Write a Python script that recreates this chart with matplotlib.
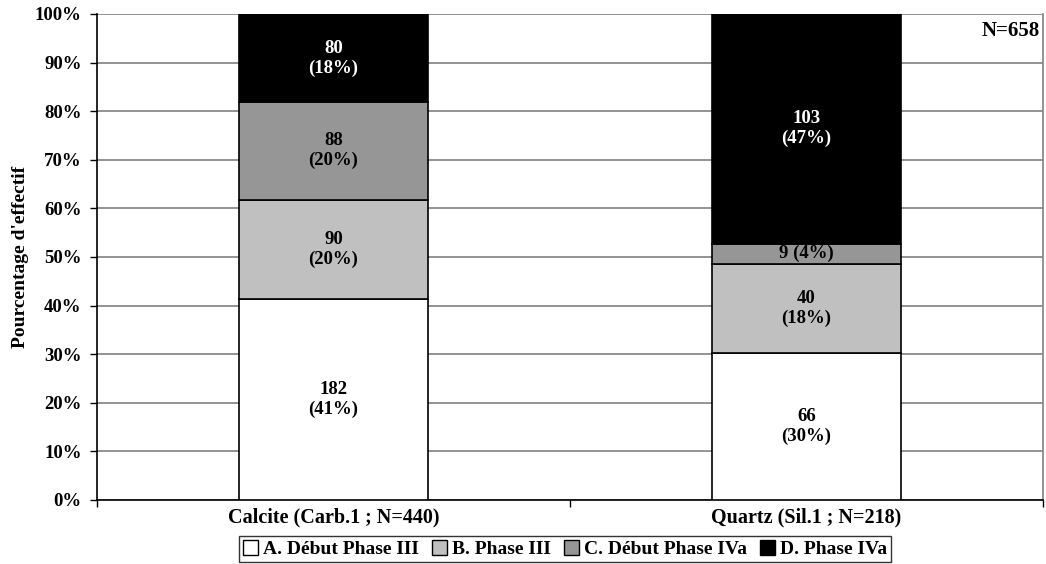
import numpy as np
import matplotlib
matplotlib.use("Agg")
import matplotlib.pyplot as plt
from matplotlib.patches import Patch

plt.rcParams['font.family'] = ['Liberation Serif', 'DejaVu Serif']
plt.rcParams['font.weight'] = 'bold'

# data
categories = ["Calcite (Carb.1 ; N=440)", "Quartz (Sil.1 ; N=218)"]
phases = ["A. Début Phase III", "B. Phase III", "C. Début Phase IVa", "D. Phase IVa"]
counts = {
    "A. Début Phase III": [182, 66],
    "B. Phase III": [90, 40],
    "C. Début Phase IVa": [88, 9],
    "D. Phase IVa": [80, 103],
}
total_label = "N=658"
colors = ["#ffffff", "#c0c0c0", "#969696", "#000000"]

fig = plt.figure(figsize=(10.46, 5.64), dpi=100)
ax = fig.add_axes([97/1046, 1-500/564, (1043-97)/1046, (500-14)/564])

totals = np.zeros(len(categories))
for p in phases:
    totals += np.array(counts[p])

x = np.arange(len(categories))
bottom = np.zeros(len(categories))
for i, p in enumerate(phases):
    vals = np.array(counts[p])
    pct = vals / totals * 100
    ax.bar(x, pct, 0.4, bottom=bottom, color=colors[i], edgecolor="black",
           linewidth=1.2, zorder=3)
    for j in range(len(categories)):
        yc = bottom[j] + pct[j] / 2
        txt_color = "white" if colors[i] == "#000000" else "black"
        # thin segments get a single-line label
        if pct[j] < 8:
            s = "%d (%d%%)" % (vals[j], round(pct[j]))
        else:
            s = "%d\n(%d%%)" % (vals[j], round(pct[j]))
        ax.text(x[j], yc, s, ha="center", va="center", fontsize=13.5,
                fontweight="bold", color=txt_color, zorder=4, linespacing=1.2)
    bottom += pct

ax.set_xlim(-0.5, len(categories) - 0.5)
ax.set_ylim(0, 100)
ax.set_yticks(np.arange(0, 101, 10))
ax.set_yticklabels(["%d%%" % v for v in range(0, 101, 10)], fontsize=13.5, fontweight="bold")
ax.yaxis.grid(True, color="#808080", linewidth=1.2, zorder=0)
ax.tick_params(axis="y", length=5, width=1, direction="out", pad=6)

# category labels centred, ticks between categories
ax.set_xticks([-0.5, 0.5, 1.5])
ax.set_xticklabels([])
ax.tick_params(axis="x", length=5, width=1, direction="out")
for j, c in enumerate(categories):
    ax.text(x[j], -1.5, c, ha="center", va="top", fontsize=14.5, fontweight="bold",
            transform=ax.transData)

ax.spines["top"].set_visible(False)
ax.spines["right"].set_color("#808080")
ax.spines["right"].set_linewidth(1.2)
ax.spines["left"].set_linewidth(1.2)
ax.spines["bottom"].set_linewidth(1.2)

ax.set_ylabel("Pourcentage d'effectif", fontsize=14, fontweight="bold", labelpad=4)

ax.text(0.997, 0.985, total_label, transform=ax.transAxes, ha="right", va="top",
        fontsize=15, fontweight="bold")

handles = [Patch(facecolor=colors[i], edgecolor="black", linewidth=1) for i in range(len(phases))]
fig.legend(handles, phases, loc="lower center", bbox_to_anchor=(565/1046, 0.0), ncol=4,
           frameon=True, fancybox=False, edgecolor="black", fontsize=14,
           handlelength=0.75, handleheight=0.75, handletextpad=0.25, columnspacing=0.7,
           borderpad=0.2, borderaxespad=0.1)

fig.savefig("out.png", dpi=100)
